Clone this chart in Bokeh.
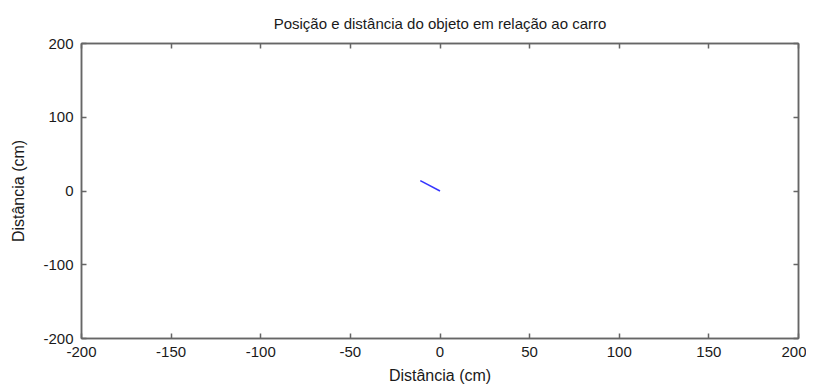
from bokeh.plotting import figure
from bokeh.models import LinearAxis, FixedTicker, Range1d, CustomJSTickFormatter
from bokeh.embed import file_html
from bokeh.resources import INLINE

# Data
obj_x = [-11, 0]
obj_y = [14, 0]
x_ticks = [-200, -150, -100, -50, 0, 50, 100, 150, 200]
y_ticks = [-200, -100, 0, 100, 200]

FONT = "Liberation Sans"
AXC = "#666666"
TXT = "#1a1a1a"

p = figure(width=806, height=387, output_backend="svg", toolbar_location=None,
           x_range=Range1d(-200, 200), y_range=Range1d(-200, 200),
           min_border_left=81, min_border_right=8, min_border_top=42, min_border_bottom=49,
           x_axis_location=None, y_axis_location=None)

p.title.text = "Posição e distância do objeto em relação ao carro"
p.title.align = "center"
p.title.text_font = FONT
p.title.text_font_size = "15px"
p.title.text_font_style = "normal"
p.title.text_color = TXT
p.title.standoff = 24

p.line(obj_x, obj_y, line_color="#3535ff", line_width=1.5)

p.grid.visible = False
p.outline_line_color = AXC
p.outline_line_width = 1.5
p.background_fill_color = "white"
p.border_fill_color = "white"

def style(ax):
    ax.major_tick_in = 5
    ax.major_tick_out = 0
    ax.minor_tick_in = 0
    ax.minor_tick_out = 0
    ax.axis_line_color = AXC
    ax.axis_line_width = 1.5
    ax.major_tick_line_color = AXC
    ax.major_tick_line_width = 1.5
    ax.major_label_text_font = FONT
    ax.major_label_text_font_size = "15px"
    ax.major_label_text_color = TXT
    ax.axis_label_text_font = FONT
    ax.axis_label_text_font_size = "16px"
    ax.axis_label_text_font_style = "normal"
    ax.axis_label_text_color = TXT

xb = LinearAxis(ticker=FixedTicker(ticks=x_ticks), axis_label="Distância (cm)",
                major_label_overrides={t: str(t) for t in x_ticks})
style(xb)
xb.major_label_standoff = 8
xb.axis_label_standoff = 7
p.add_layout(xb, "below")

yl = LinearAxis(ticker=FixedTicker(ticks=y_ticks), axis_label="Distância (cm)",
                major_label_overrides={t: str(t) for t in y_ticks})
style(yl)
yl.major_label_standoff = 8
yl.axis_label_standoff = 13
p.add_layout(yl, "left")

xt = LinearAxis(ticker=FixedTicker(ticks=x_ticks), formatter=CustomJSTickFormatter(code="return '';"))
style(xt)
xt.major_label_standoff = 0
xt.major_label_text_font_size = "1px"
p.add_layout(xt, "above")

yr = LinearAxis(ticker=FixedTicker(ticks=y_ticks), formatter=CustomJSTickFormatter(code="return '';"))
style(yr)
yr.major_label_standoff = 0
yr.major_label_text_font_size = "1px"
p.add_layout(yr, "right")

open("out.html", "w").write(file_html(p, INLINE))
